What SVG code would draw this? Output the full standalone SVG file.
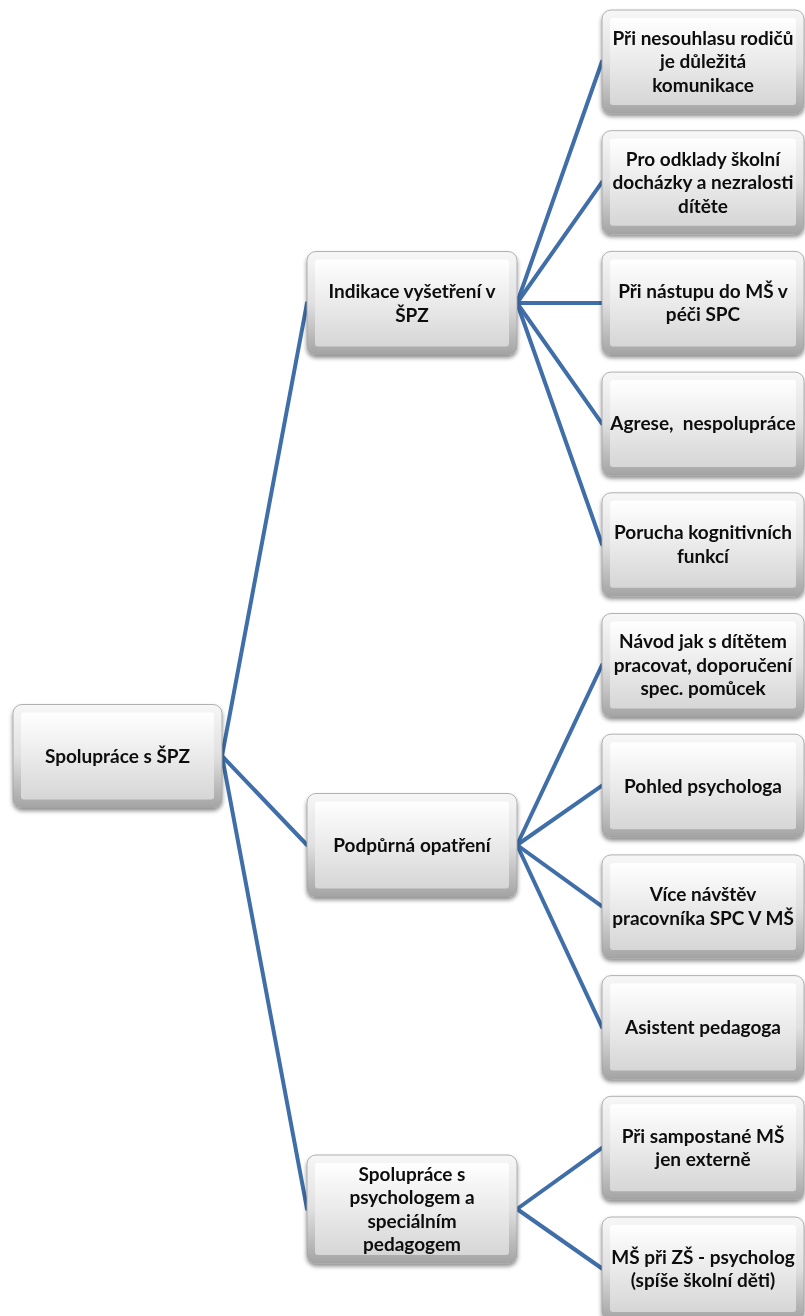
<svg xmlns="http://www.w3.org/2000/svg" width="805" height="1316" viewBox="0 0 805 1316">
<style>
.edge{fill:url(#gEdge);stroke:#a0a0a0;stroke-width:0.8}
.face{fill:url(#gFace)}
.node text{font-family:Lato,"Open Sans","Liberation Sans",sans-serif;font-weight:bold;font-size:19px;fill:#0d0d0d;text-anchor:middle}
.conn line{stroke:#3f6ea8;stroke-width:4;stroke-linecap:round}
</style>
<defs>
<linearGradient id="gEdge" x1="0" y1="0" x2="0" y2="1">
<stop offset="0" stop-color="#f7f7f7"/>
<stop offset="0.5" stop-color="#e0e0e0"/>
<stop offset="1" stop-color="#a4a4a4"/>
</linearGradient>
<linearGradient id="gFace" x1="0" y1="0" x2="0" y2="1">
<stop offset="0" stop-color="#ffffff"/>
<stop offset="1" stop-color="#d6d6d6"/>
</linearGradient>
<filter id="sh" x="-10%" y="-10%" width="120%" height="130%">
<feDropShadow dx="0" dy="3" stdDeviation="2.2" flood-color="#000" flood-opacity="0.45"/>
</filter>
</defs>
<rect width="805" height="1316" fill="#ffffff"/>
<g id="connectors" class="conn">
<line x1="222" y1="756" x2="307" y2="303"/>
<line x1="222" y1="756" x2="307" y2="845"/>
<line x1="222" y1="756" x2="307" y2="1209"/>
<line x1="517" y1="303" x2="602" y2="61.5"/>
<line x1="517" y1="303" x2="602" y2="182.2"/>
<line x1="517" y1="303" x2="602" y2="302.9"/>
<line x1="517" y1="303" x2="602" y2="423.6"/>
<line x1="517" y1="303" x2="602" y2="544.3"/>
<line x1="517" y1="845" x2="602" y2="665"/>
<line x1="517" y1="845" x2="602" y2="785.7"/>
<line x1="517" y1="845" x2="602" y2="906.4"/>
<line x1="517" y1="845" x2="602" y2="1027.1"/>
<line x1="517" y1="1209" x2="602" y2="1147.8"/>
<line x1="517" y1="1209" x2="602" y2="1268.5"/>
</g>
<g id="root" class="node" filter="url(#sh)">
<rect class="edge" x="13" y="704.5" width="209" height="103" rx="9"/>
<rect class="face" x="21" y="712.5" width="193" height="87" rx="3"/>
<text x="117.5" y="762.8">Spolupráce s ŠPZ</text>
</g>
<g id="mid-indikace" class="node" filter="url(#sh)">
<rect class="edge" x="307" y="251.5" width="210" height="103" rx="9"/>
<rect class="face" x="315" y="259.5" width="194" height="87" rx="3"/>
<text x="412" y="298.1">Indikace vyšetření v</text>
<text x="412" y="321.6">ŠPZ</text>
</g>
<g id="mid-podpurna" class="node" filter="url(#sh)">
<rect class="edge" x="307" y="793.5" width="210" height="103" rx="9"/>
<rect class="face" x="315" y="801.5" width="194" height="87" rx="3"/>
<text x="412" y="851.8">Podpůrná opatření</text>
</g>
<g id="mid-spoluprace" class="node" filter="url(#sh)">
<rect class="edge" x="307" y="1155" width="210" height="108" rx="9"/>
<rect class="face" x="315" y="1163" width="194" height="92" rx="3"/>
<text x="412" y="1180.6">Spolupráce s</text>
<text x="412" y="1204.1">psychologem a</text>
<text x="412" y="1227.6">speciálním</text>
<text x="412" y="1251.1">pedagogem</text>
</g>
<g id="leaf-1" class="node" filter="url(#sh)">
<rect class="edge" x="602" y="10" width="202" height="103" rx="9"/>
<rect class="face" x="610" y="18" width="186" height="87" rx="3"/>
<text x="703" y="44.8">Při nesouhlasu rodičů</text>
<text x="703" y="68.3">je důležitá</text>
<text x="703" y="91.8">komunikace</text>
</g>
<g id="leaf-2" class="node" filter="url(#sh)">
<rect class="edge" x="602" y="130.7" width="202" height="103" rx="9"/>
<rect class="face" x="610" y="138.7" width="186" height="87" rx="3"/>
<text x="703" y="165.5">Pro odklady školní</text>
<text x="703" y="189">docházky a nezralosti</text>
<text x="703" y="212.5">dítěte</text>
</g>
<g id="leaf-3" class="node" filter="url(#sh)">
<rect class="edge" x="602" y="251.4" width="202" height="103" rx="9"/>
<rect class="face" x="610" y="259.4" width="186" height="87" rx="3"/>
<text x="703" y="297.9">Při nástupu do MŠ v</text>
<text x="703" y="321.4">péči SPC</text>
</g>
<g id="leaf-4" class="node" filter="url(#sh)">
<rect class="edge" x="602" y="372.1" width="202" height="103" rx="9"/>
<rect class="face" x="610" y="380.1" width="186" height="87" rx="3"/>
<text x="703" y="430.4" xml:space="preserve">Agrese,  nespolupráce</text>
</g>
<g id="leaf-5" class="node" filter="url(#sh)">
<rect class="edge" x="602" y="492.8" width="202" height="103" rx="9"/>
<rect class="face" x="610" y="500.8" width="186" height="87" rx="3"/>
<text x="703" y="539.3">Porucha kognitivních</text>
<text x="703" y="562.8">funkcí</text>
</g>
<g id="leaf-6" class="node" filter="url(#sh)">
<rect class="edge" x="602" y="613.5" width="202" height="103" rx="9"/>
<rect class="face" x="610" y="621.5" width="186" height="87" rx="3"/>
<text x="703" y="648.3">Návod jak s dítětem</text>
<text x="703" y="671.8">pracovat, doporučení</text>
<text x="703" y="695.3">spec. pomůcek</text>
</g>
<g id="leaf-7" class="node" filter="url(#sh)">
<rect class="edge" x="602" y="734.2" width="202" height="103" rx="9"/>
<rect class="face" x="610" y="742.2" width="186" height="87" rx="3"/>
<text x="703" y="792.5">Pohled psychologa</text>
</g>
<g id="leaf-8" class="node" filter="url(#sh)">
<rect class="edge" x="602" y="854.9" width="202" height="103" rx="9"/>
<rect class="face" x="610" y="862.9" width="186" height="87" rx="3"/>
<text x="703" y="901.4">Více návštěv</text>
<text x="703" y="924.9">pracovníka SPC V MŠ</text>
</g>
<g id="leaf-9" class="node" filter="url(#sh)">
<rect class="edge" x="602" y="975.6" width="202" height="103" rx="9"/>
<rect class="face" x="610" y="983.6" width="186" height="87" rx="3"/>
<text x="703" y="1033.9">Asistent pedagoga</text>
</g>
<g id="leaf-10" class="node" filter="url(#sh)">
<rect class="edge" x="602" y="1096.3" width="202" height="103" rx="9"/>
<rect class="face" x="610" y="1104.3" width="186" height="87" rx="3"/>
<text x="703" y="1142.8">Při sampostané MŠ</text>
<text x="703" y="1166.3">jen externě</text>
</g>
<g id="leaf-11" class="node" filter="url(#sh)">
<rect class="edge" x="602" y="1217" width="202" height="103" rx="9"/>
<rect class="face" x="610" y="1225" width="186" height="87" rx="3"/>
<text x="703" y="1263.5">MŠ při ZŠ - psycholog</text>
<text x="703" y="1287">(spíše školní děti)</text>
</g>
</svg>
